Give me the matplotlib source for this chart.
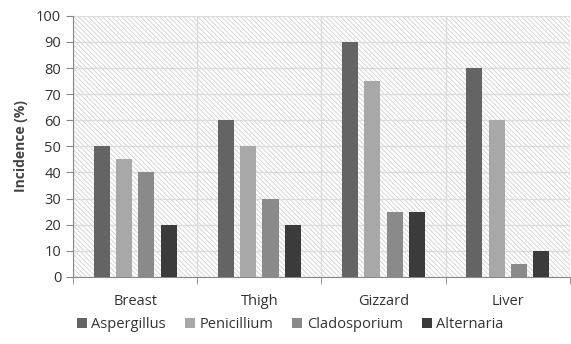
import matplotlib.pyplot as plt
import numpy as np
from matplotlib.patches import Rectangle

plt.rcParams['font.family'] = ['Open Sans', 'DejaVu Sans']
plt.rcParams['hatch.color'] = '#d0d0d0'
plt.rcParams['hatch.linewidth'] = 0.6

categories = ['Breast', 'Thigh', 'Gizzard', 'Liver']
series = ['Aspergillus', 'Penicillium', 'Cladosporium', 'Alternaria']
aspergillus = [50, 60, 90, 80]
penicillium = [45, 50, 75, 60]
cladosporium = [40, 30, 25, 5]
alternaria = [20, 20, 25, 10]
colors = ['#646464', '#a8a8a8', '#8a8a8a', '#3b3b3b']

values = [aspergillus, penicillium, cladosporium, alternaria]

fig = plt.figure(figsize=(5.71, 3.44), dpi=100)
ax = fig.add_axes([0.128, 0.195, 0.870, 0.759])

# hatched background
ax.add_patch(Rectangle((0, 0), 1, 1, transform=ax.transAxes, facecolor='white',
                       hatch='\\' * 7, edgecolor='#d0d0d0', linewidth=0, zorder=0))

x = np.arange(len(categories))
step = 0.18
width = 0.13
for i, (name, vals) in enumerate(zip(series, values)):
    ax.bar(x + (i - 1.5) * step, vals, width, color=colors[i], label=name, zorder=3)

ax.set_xlim(-0.5, len(categories) - 0.5)
ax.set_ylim(0, 100)
ax.set_yticks(np.arange(0, 101, 10))
ax.set_xticks(x)
ax.set_xticklabels(categories)
ax.set_xticks(np.arange(-0.5, len(categories)), minor=True)
ax.tick_params(axis='x', which='major', length=0, pad=12, labelsize=10.5, labelcolor='#333333')
ax.tick_params(axis='x', which='minor', length=5, color='#888888', direction='out')
ax.tick_params(axis='y', length=5, color='#888888', labelsize=10.5, labelcolor='#333333')

ax.grid(axis='y', color='#dcdcdc', linewidth=1, zorder=1)
ax.grid(axis='x', which='minor', color='#dcdcdc', linewidth=1, zorder=1)

for s in ['top', 'right']:
    ax.spines[s].set_visible(False)
for s in ['left', 'bottom']:
    ax.spines[s].set_color('#888888')

ax.set_ylabel('Incidence (%)', fontsize=10, fontweight='bold', color='#444444', labelpad=6)

ax.legend(loc='center', bbox_to_anchor=(0.437, -0.184), ncol=4, frameon=False,
          fontsize=10.5, handlelength=0.7, handleheight=0.7, handletextpad=0.3,
          columnspacing=1.3, labelcolor='#333333')

fig.savefig('out.png', dpi=100)
